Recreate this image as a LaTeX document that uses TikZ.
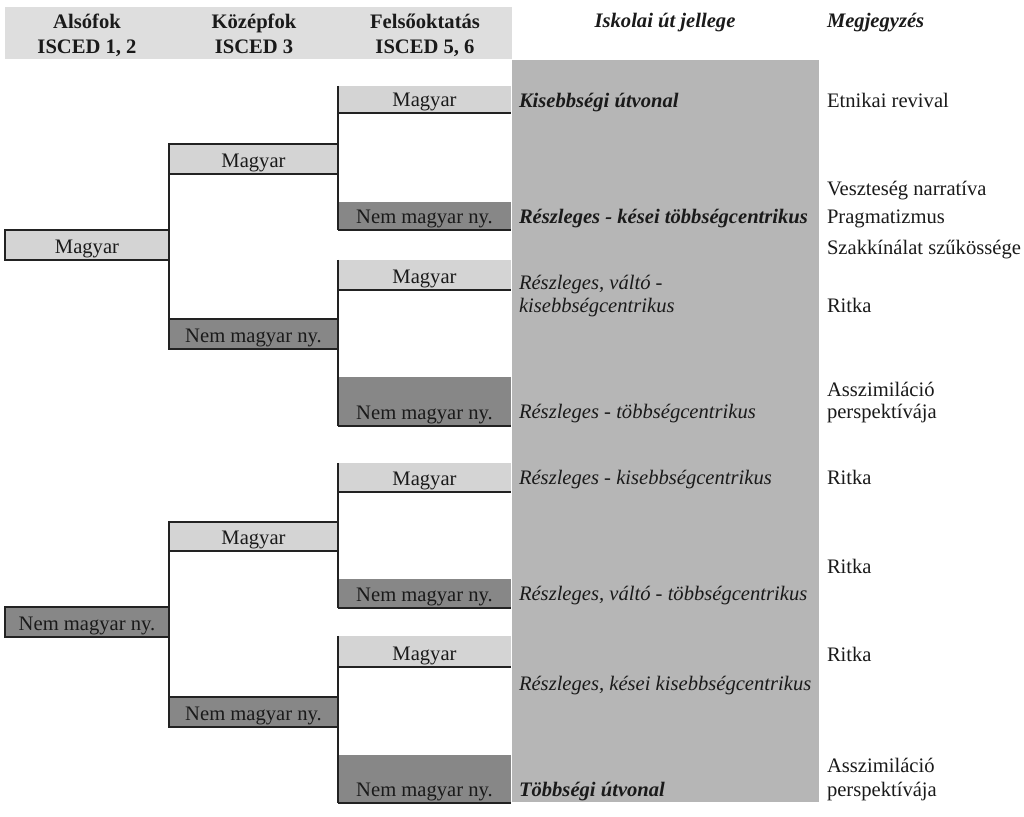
\documentclass[tikz,border=0pt]{standalone}
\usepackage{fontspec}
\setmainfont{Liberation Serif}
\definecolor{hdrc}{HTML}{DEDEDE}
\definecolor{lightc}{HTML}{D4D4D4}
\definecolor{darkc}{HTML}{878787}
\definecolor{colc}{HTML}{B6B6B6}
\definecolor{linec}{HTML}{222222}
\definecolor{txtc}{HTML}{1A1A1A}
\begin{document}
\begin{tikzpicture}[x=0.5pt,y=-0.5pt,
  every node/.style={font=\fontsize{10.3}{12}\selectfont, text=txtc, outer sep=0pt},
  boxbase/.style={rectangle, inner xsep=0pt, inner ysep=0pt, text depth=3pt, anchor=south west},
  lbox/.style={boxbase, fill=lightc},
  dbox/.style={boxbase, fill=darkc},
  framed/.style={draw=linec, line width=1pt},
  wone/.style={minimum width=82pt},
  wtwo/.style={minimum width=84.5pt},
  wthree/.style={minimum width=86.5pt},
  conn/.style={draw=linec, line width=1pt},
  htext/.style={anchor=base, inner sep=0pt, font=\fontsize{10.3}{12}\selectfont\bfseries},
  ctext/.style={anchor=base west, inner sep=0pt, font=\fontsize{10.3}{12}\selectfont\itshape},
  cbold/.style={anchor=base west, inner sep=0pt, font=\fontsize{10.3}{12}\selectfont\bfseries\itshape},
  rtext/.style={anchor=base west, inner sep=0pt},
]
\useasboundingbox (0,0) rectangle (1024,817);
\fill[white] (0,0) rectangle (1024,817);

% header
\node[fill=hdrc, minimum width=253.5pt, minimum height=26pt, inner sep=0pt, anchor=north west] (hdr) at (5,7) {};
\node[htext] (h1a) at (87,29) {Alsófok};
\node[htext] (h1b) at (87,54) {ISCED 1, 2};
\node[htext] (h2a) at (254,29) {Középfok};
\node[htext] (h2b) at (254,54) {ISCED 3};
\node[htext] (h3a) at (425,29) {Felsőoktatás};
\node[htext] (h3b) at (425,54) {ISCED 5, 6};
\node[anchor=base, inner sep=0pt, font=\fontsize{10.3}{12}\selectfont\bfseries\itshape] (h4) at (665,28) {Iskolai út jellege};
\node[anchor=base west, inner sep=0pt, font=\fontsize{10.3}{12}\selectfont\bfseries\itshape] (h5) at (827,28) {Megjegyzés};

% grey column
\node[fill=colc, minimum width=153.5pt, minimum height=371pt, inner sep=0pt, anchor=north west] (col) at (512,60) {};

% level 1
\node[lbox, framed, wone, text height=12pt] (la) at (5,260) {Magyar};
\node[dbox, framed, wone, text height=12pt] (lb) at (5,637) {Nem magyar ny.};

% level 2
\node[lbox, framed, wtwo, text height=12pt] (ma) at (169,174) {Magyar};
\node[dbox, framed, wtwo, text height=12pt] (mb) at (169,349) {Nem magyar ny.};
\node[lbox, framed, wtwo, text height=11.5pt] (mc) at (169,551) {Magyar};
\node[dbox, framed, wtwo, text height=12pt] (md) at (169,727) {Nem magyar ny.};

% level 3
\node[lbox, wthree, text height=10.5pt] (a1) at (338,113) {Magyar};
\node[dbox, wthree, text height=11pt] (a2) at (338,230) {Nem magyar ny.};
\node[lbox, wthree, text height=12pt] (a3) at (338,290) {Magyar};
\node[dbox, wthree, text height=21.5pt] (a4) at (338,426) {Nem magyar ny.};
\node[lbox, wthree, text height=11.5pt] (b1) at (338,492) {Magyar};
\node[dbox, wthree, text height=11.5pt] (b2) at (338,608) {Nem magyar ny.};
\node[lbox, wthree, text height=12.5pt] (b3) at (338,667) {Magyar};
\node[dbox, wthree, text height=21pt] (b4) at (338,803) {Nem magyar ny.};

% connectors
\draw[conn] (ma.north west) -- (mb.south west);
\draw[conn] (mc.north west) -- (md.south west);
\draw[conn] (a1.north west) -- (a2.south west);
\draw[conn] (a3.north west) -- (a4.south west);
\draw[conn] (b1.north west) -- (b2.south west);
\draw[conn] (b3.north west) -- (b4.south west);
\foreach \n in {a1,a2,a3,a4,b1,b2,b3,b4}{
  \draw[conn] (\n.south west) -- (\n.south east);
}

% column texts
\node[cbold] (t1) at (519,108) {Kisebbségi útvonal};
\node[cbold] (t2) at (519,224) {Részleges - kései többségcentrikus};
\node[ctext] (t3a) at (519,290) {Részleges, váltó -};
\node[ctext] (t3b) at (519,313) {kisebbségcentrikus};
\node[ctext] (t4) at (519,419) {Részleges - többségcentrikus};
\node[ctext] (t5) at (519,485) {Részleges - kisebbségcentrikus};
\node[ctext] (t6) at (519,601) {Részleges, váltó - többségcentrikus};
\node[ctext] (t7) at (519,691) {Részleges, kései kisebbségcentrikus};
\node[cbold] (t8) at (519,797) {Többségi útvonal};

% remarks
\node[rtext] (r1) at (827,108) {Etnikai revival};
\node[rtext] (r2a) at (827,196) {Veszteség narratíva};
\node[rtext] (r2b) at (827,224) {Pragmatizmus};
\node[rtext] (r2c) at (827,255) {Szakkínálat szűkössége};
\node[rtext] (r3) at (827,313) {Ritka};
\node[rtext] (r4a) at (827,397) {Asszimiláció};
\node[rtext] (r4b) at (827,419) {perspektívája};
\node[rtext] (r5) at (827,485) {Ritka};
\node[rtext] (r6) at (827,574) {Ritka};
\node[rtext] (r7) at (827,662) {Ritka};
\node[rtext] (r8a) at (827,773) {Asszimiláció};
\node[rtext] (r8b) at (827,797) {perspektívája};
\end{tikzpicture}
\end{document}
